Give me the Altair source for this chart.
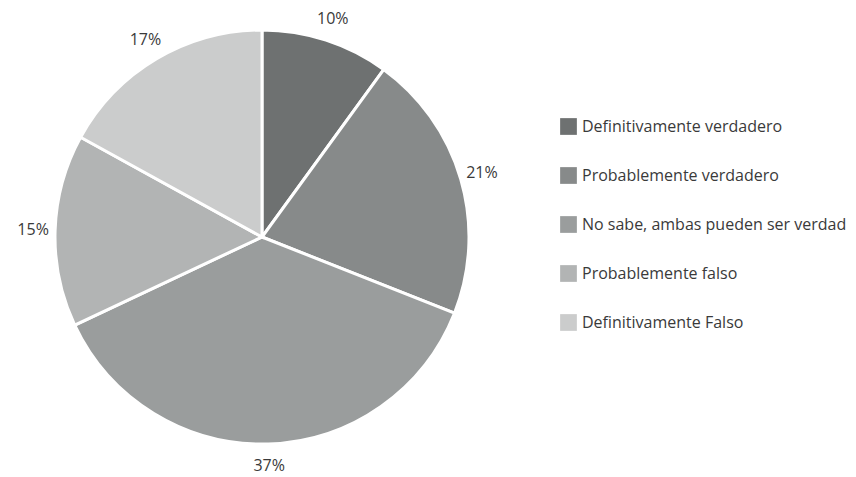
import altair as alt
import pandas as pd

categories = ["Definitivamente verdadero", "Probablemente verdadero",
              "No sabe, ambas pueden ser verdad", "Probablemente falso",
              "Definitivamente Falso"]
values = [10, 21, 37, 15, 17]
labels = ["10%", "21%", "37%", "15%", "17%"]
colors = ["#6e7171", "#878a8a", "#9a9d9d", "#b2b4b4", "#cbcccc"]

df = pd.DataFrame({"cat": categories, "val": values, "lab": labels,
                   "idx": list(range(len(values)))})

cx, cy = 254, 229

base = alt.Chart(df).encode(
    theta=alt.Theta("val:Q", stack=True),
    order=alt.Order("idx:Q"),
)

pie = base.mark_arc(radius=207, stroke="white", strokeWidth=3).encode(
    x=alt.value(cx), y=alt.value(cy),
    color=alt.Color("cat:N", scale=alt.Scale(domain=categories, range=colors),
                    sort=categories,
                    legend=alt.Legend(title=None, orient="none", legendX=552, legendY=110,
                                      symbolType="square", symbolSize=280,
                                      symbolStrokeWidth=0, labelFontSize=16,
                                      labelFont="Open Sans", labelColor="#3a3a3a",
                                      rowPadding=32, labelOffset=5, labelLimit=400)),
)

text = base.mark_text(radius=229, fontSize=16, font="Open Sans", color="#3a3a3a").encode(
    x=alt.value(cx), y=alt.value(cy),
    text="lab:N",
)

chart = (pie + text).properties(width=840, height=467, padding=0, autosize="none").configure_view(stroke=None)

chart.save("out.html", embed_options={"renderer": "svg", "actions": False})
